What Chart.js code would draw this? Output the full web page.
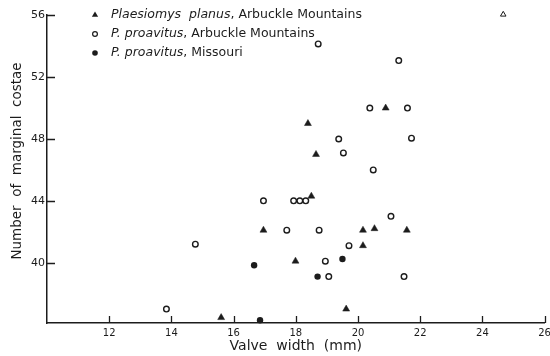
<!DOCTYPE html>
<html>
<head>
<meta charset="utf-8">
<script src="https://cdn.jsdelivr.net/npm/chart.js@4/dist/chart.umd.min.js"></script>
<style>
  html, body { margin: 0; padding: 0; background: #fff; }
  canvas { display: block; }
</style>
</head>
<body>
<canvas id="chart" width="550" height="356"></canvas>
<script>
// Valve width (mm) against number of marginal costae
const planusX = [18.39, 18.65, 18.50, 20.89, 16.96, 20.16, 20.53, 21.57, 20.16, 17.99, 19.62, 15.60];
const planusY = [49, 47, 44.3, 50, 42.1, 42.1, 42.2, 42.1, 41.1, 40.1, 37, 36.45];

const arbuckleX = [18.72, 21.31, 20.38, 21.59, 19.38, 21.72, 19.53, 20.49, 16.96, 17.93, 18.13, 18.32, 21.06, 17.71, 18.75, 14.77, 19.71, 18.95, 19.06, 21.48, 13.84];
const arbuckleY = [54.15, 53.07, 50, 50, 48, 48.05, 47.1, 46, 44, 44, 44, 44, 43, 42.1, 42.1, 41.2, 41.1, 40.1, 39.1, 39.1, 37];

const missouriX = [16.66, 18.70, 19.50, 16.85];
const missouriY = [39.83, 39.1, 40.24, 36.28];

const extraX = [24.67];
const extraY = [56.05];

const xTickValues = [12, 14, 16, 18, 20, 22, 24, 26];
const yTickValues = [40, 44, 48, 52, 56];

const legendGenus = ['Plaesiomys  planus', 'P. proavitus', 'P. proavitus'];
const legendPlace = [', Arbuckle Mountains', ', Arbuckle Mountains', ', Missouri'];
const yTitle = 'Number  of  marginal  costae';

const INK = '#1c1c1c';
const FONT = 'DejaVu Sans';

function pts(xs, ys) { return xs.map((x, i) => ({ x: x, y: ys[i] })); }

// small tick marks pointing into the plot
const innerTicks = {
  id: 'innerTicks',
  afterDraw(chart) {
    const { ctx, chartArea: a, scales: { x, y } } = chart;
    ctx.save();
    ctx.strokeStyle = INK;
    ctx.lineWidth = 1.3;
    ctx.beginPath();
    x.ticks.forEach(t => {
      const px = Math.round(x.getPixelForValue(t.value)) + 0.5;
      ctx.moveTo(px, a.bottom);
      ctx.lineTo(px, a.bottom - 7);
    });
    y.ticks.forEach(t => {
      const py = Math.round(y.getPixelForValue(t.value)) + 0.5;
      ctx.moveTo(a.left, py);
      ctx.lineTo(a.left + 8, py);
    });
    ctx.stroke();
    ctx.restore();
  }
};

// vertical axis title, set a little above the middle of the axis
const sideTitle = {
  id: 'sideTitle',
  afterDraw(chart) {
    const ctx = chart.ctx;
    ctx.save();
    ctx.translate(17, 161);
    ctx.rotate(-Math.PI / 2);
    ctx.fillStyle = INK;
    ctx.font = '13.5px "' + FONT + '"';
    ctx.textAlign = 'center';
    ctx.textBaseline = 'middle';
    ctx.fillText(yTitle, 0, 0);
    ctx.restore();
  }
};

// key in the upper left, species names set in italics
const speciesKey = {
  id: 'speciesKey',
  afterDraw(chart) {
    const ctx = chart.ctx;
    const rowsY = [15, 34, 53];
    const markX = 95, textX = 111;
    ctx.save();
    ctx.fillStyle = INK;
    ctx.strokeStyle = INK;
    ctx.textBaseline = 'middle';
    rowsY.forEach((ry, i) => {
      ctx.beginPath();
      if (i === 0) {
        const r = 3.6;
        ctx.moveTo(markX, ry - r);
        ctx.lineTo(markX + r * 0.866, ry + r * 0.5);
        ctx.lineTo(markX - r * 0.866, ry + r * 0.5);
        ctx.closePath();
        ctx.fill();
      } else if (i === 1) {
        ctx.lineWidth = 1.2;
        ctx.arc(markX, ry, 2.4, 0, Math.PI * 2);
        ctx.stroke();
      } else {
        ctx.arc(markX, ry, 2.8, 0, Math.PI * 2);
        ctx.fill();
      }
      ctx.font = 'italic 12.5px "' + FONT + '"';
      ctx.fillText(legendGenus[i], textX, ry);
      const w = ctx.measureText(legendGenus[i]).width;
      ctx.font = '12.5px "' + FONT + '"';
      ctx.fillText(legendPlace[i], textX + w, ry);
    });
    ctx.restore();
  }
};

new Chart(document.getElementById('chart'), {
  type: 'scatter',
  data: {
    datasets: [
      {
        label: 'Plaesiomys planus, Arbuckle Mountains',
        data: pts(planusX, planusY),
        pointStyle: 'triangle',
        pointRadius: 4,
        backgroundColor: INK,
        borderColor: INK,
        borderWidth: 0.5,
        clip: false
      },
      {
        label: 'P. proavitus, Arbuckle Mountains',
        data: pts(arbuckleX, arbuckleY),
        pointStyle: 'circle',
        pointRadius: 2.8,
        backgroundColor: '#fff',
        borderColor: INK,
        borderWidth: 1.4,
        clip: false
      },
      {
        label: 'P. proavitus, Missouri',
        data: pts(missouriX, missouriY),
        pointStyle: 'circle',
        pointRadius: 3.2,
        backgroundColor: INK,
        borderColor: INK,
        borderWidth: 0,
        clip: false
      },
      {
        label: '',
        data: pts(extraX, extraY),
        pointStyle: 'triangle',
        pointRadius: 3.2,
        backgroundColor: '#fff',
        borderColor: INK,
        borderWidth: 1,
        clip: false
      }
    ]
  },
  options: {
    responsive: false,
    animation: false,
    events: [],
    layout: { padding: { left: 0, right: 4.4, top: 14.5, bottom: 0 } },
    plugins: {
      legend: { display: false },
      tooltip: { enabled: false }
    },
    scales: {
      x: {
        type: 'linear',
        min: 10,
        max: 26,
        afterBuildTicks(scale) { scale.ticks = xTickValues.map(v => ({ value: v })); },
        afterFit(scale) {
          scale.height = 33;
          scale.paddingLeft = 0;
          scale.paddingRight = 0;
        },
        grid: { display: true, drawOnChartArea: false, drawTicks: false },
        border: { display: true, color: INK, width: 1.5 },
        ticks: { color: INK, padding: 4, font: { family: FONT, size: 10 } },
        title: {
          display: true,
          text: 'Valve  width  (mm)',
          color: INK,
          font: { family: FONT, size: 14 },
          padding: { top: 0, bottom: 1 }
        }
      },
      y: {
        type: 'linear',
        min: 36.1,
        max: 56.05,
        afterBuildTicks(scale) { scale.ticks = yTickValues.map(v => ({ value: v })); },
        afterFit(scale) {
          scale.width = 47;
          scale.paddingTop = 0;
          scale.paddingBottom = 0;
        },
        grid: { display: true, drawOnChartArea: false, drawTicks: false },
        border: { display: true, color: INK, width: 1.5 },
        ticks: { color: INK, padding: 2, font: { family: FONT, size: 11 } },
        title: { display: false }
      }
    }
  },
  plugins: [innerTicks, sideTitle, speciesKey]
});
</script>
</body>
</html>
